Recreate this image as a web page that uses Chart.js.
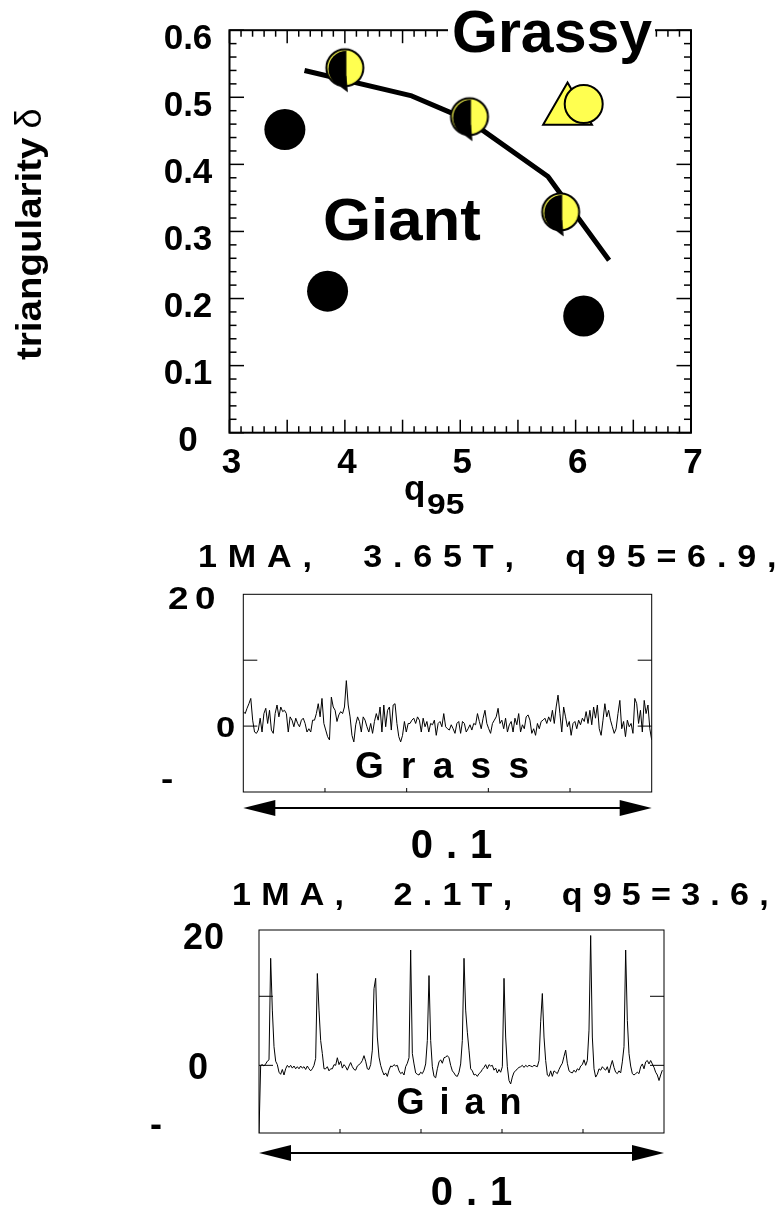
<!DOCTYPE html>
<html>
<head>
<meta charset="utf-8">
<title>Triangularity vs q95 and ELM traces</title>
<script src="https://cdn.jsdelivr.net/npm/chart.js@4.4.0/dist/chart.umd.min.js"></script>
<style>
  html, body { margin: 0; padding: 0; background: #fff; }
  body { width: 783px; height: 1215px; position: relative; overflow: hidden; }
  canvas { position: absolute; left: 0; }
</style>
</head>
<body>
<canvas id="deltaChart" width="783" height="520" style="top:0"></canvas>
<canvas id="grassChart" width="783" height="345" style="top:520px"></canvas>
<canvas id="giantChart" width="783" height="350" style="top:865px"></canvas>
<script>
// operating points: q95 and triangularity
const giantQ = [3.48, 3.85, 6.07];
const giantDelta = [0.452, 0.211, 0.174];
const mixedQ = [4.0, 5.08, 5.87];
const mixedDelta = [0.544, 0.471, 0.329];
const grassyTriQ = [5.93];
const grassyTriDelta = [0.480];
const grassyQ = [6.07];
const grassyDelta = [0.490];
// boundary between the two regimes
const boundaryQ = [3.65, 4.58, 5.07, 5.76, 6.29];
const boundaryDelta = [0.540, 0.502, 0.466, 0.382, 0.257];

const qTicks = [3, 4, 5, 6, 7];
const deltaTicks = [0, 0.1, 0.2, 0.3, 0.4, 0.5, 0.6];

// D-alpha signal, 1MA 3.65T q95=6.9 (grassy ELMs), 0.1 s window
const grassSignal = [
  2.2, 1.9, 2.7, 3.4, 4.2, 0.9, -0.9, -1.1, -0.6, 1.2,
  -0.9, 1.9, 2.7, 0.4, 2.4, -0.6, -1.1, 1.9, 3.2, 1.4,
  2.9, 2.2, 2.4, 1.9, -0.9, 1.4, 0.9, -0.1, 1.2, 0.4,
  -0.1, 0.9, 1.2, 0.4, -0.9, -0.4, -0.9, 0.9, 0.9, 1.9,
  3.4, 1.4, 4.2, 0.4, -0.6, -1.6, -2.1, 4.4, 2.9, 2.4,
  0.7, 1.7, 2.2, 1.9, 2.9, 6.9, 3.2, 1.4, -1.4, -2.4,
  0.2, 1.4, 0.7, -0.9, 1.4, 0.9, -0.1, -0.9, 0.4, -1.1,
  0.7,
  1.9, 0.9, 2.9, -0.9, 3.2, -0.1, 2.4, 2.9, -0.6, 3.2,
  3.4, 0.4, -1.6, -2.4, -1.4, 0.7, -0.9, 0.4, 0.4, 0.9,
  1.2, 0.4, 1.4, 0.9, -0.9, 1.2, -0.1, 0.7, -0.9, 0.4,
  0.2, 0.9, -1.4, 0.4, 0.7, -0.1, 1.9, -0.1, -0.4, -0.6,
  0.2, -0.4, -1.1, 0.4, 0.7, -1.1, 0.7, 0.4, -0.9, -0.4,
  0.2, -0.6, 0.4, 0.2, 1.9, 0.7, -0.4, 1.2, 2.4, 0.4,
  -0.4, -1.1, 0.4, 0.9, 1.4, 2.7, 0.4, 0.9, -0.4, 1.2,
  -0.9,
  0.2, 0.7, -0.9, 1.2, 0.2, 1.9, -0.9, 0.2, -0.4, 1.4,
  1.7, 0.9, -1.1, -0.4, -1.4, 0.4, -0.4, 0.7, 0.9, 1.2,
  0.4, 1.4, 0.7, 2.4, 0.4, 2.9, 4.7, 1.9, -0.9, 2.9,
  1.4, -0.1, 0.7, -1.4, 0.4, 0.7, -0.4, 0.9, 0.2, 1.2,
  0.7, 2.2, 0.4, 2.4, 0.2, 2.9, 1.2, 3.2, -0.4, -1.4,
  0.9, 3.4, 1.4, 2.4, 0.9, -0.1, -1.1, -0.4, 1.9, 3.9,
  -0.4, 0.7, -1.6, 0.9, -0.1, 0.4, -1.1, 4.2, 3.4, 0.4,
  2.4, -0.9, 3.9, 1.9, 3.2, -0.4, -2.1
];

// D-alpha signal, 1MA 2.1T q95=3.6 (giant ELMs), 0.1 s window
const giantSignal = [
  -9.8,
  0, 0.1, -0.1, 0.2, 0.6, 0.8, 15.5, 8.0, 2.7, 0.6,
  0.1, -1.0, -1.3, -0.6, -1.4, -0.5, 0, -0.3, 0, -0.4,
  -0.1, -0.5, -0.2, -0.5, -0.1, -0.4, -0.2, -0.6, -0.1, -0.5,
  -0.8, -0.5, 0, 1.0, 13.3, 8.0, 3.6, 1.7, -0.5, -0.5,
  -0.2, -0.8, -0.5, -0.5, 0.1, 0, 1.1, 0.1, 0.6, -0.4,
  0.1, -0.2, -0.7, -0.1, 0.4, -0.2, -0.6, -0.7, -0.1, 0.1,
  0.3, 0.7, 1.4, 0.6, -0.5, -0.6, 0.1, 2.2, 11.1, 12.6,
  4.1, 1.2, 0, -0.8, -1.4, -1.1, -1.6, -0.7, -0.1, -0.2,
  0.1, -0.1, 0, -0.8, -1.2, -1.0, -1.4, -0.2, 0.3, 1.1,
  16.7, 1.7, 0.2, -1.1, -1.3, -1.4, -1.0, -1.2, -0.7, 0.2,
  3.6, 13.0, 3.6, -0.2, -1.6, -1.8, -0.5, 0.5, 0.8, 0.3,
  1.1, 1.2, 1.4, 1.1, 0, -0.8, -1.1, -1.5, -1.6, -1.0,
  0.2, 3.6, 15.5, 8.0, 4.8, 2.2, -0.5, -0.8, -1.4, -1.3,
  -1.6, -1.2, -1.0, -0.6, -0.3, 0.1, -0.5, 0.1, -0.1, 0,
  -0.7, -0.4, -1.1, -0.6, -1.0, -0.2, 12.6, 4.1, -0.2, -2.2,
  -2.7, -1.7, -1.0, -0.8, -0.5, -0.3, -0.2, 0, -0.3, 0,
  -0.2,
  0, -0.1, -0.2, 0, -0.1, -0.2, 0.7, 6.3, 10.4, 4.1,
  0.7, -1.4, -1.6, -0.8, -1.6, -0.8, -1.0, -1.2, -0.6, -0.1,
  0.3, 1.3, 2.2, 0.3, -0.8, -1.0, -1.1, -0.7, -1.0, -0.5,
  -0.7, -0.1, 0.1, 0.8, 0, 0.7, 5.1, 18.8, 4.1, -0.5,
  -1.7, -1.3, -0.5, -0.7, -0.2, -0.5, -0.7, -0.2, -1.1, -0.1,
  0.7, -0.3, -1.0, -1.2, -0.8, -1.1, 0.5, 2.7, 16.7, 6.5,
  1.7, -0.1, -1.2, -1.4, -1.2, -1.0, -1.2, -0.2, 0.2, -0.5,
  0.5, 0.7, 0.2, 0.7, 0.2, -0.3, -1.0, -1.4, -2.2, -1.4,
  -0.7
];
const windowLength = 0.1; // seconds shown in each trace

const YELLOW = '#ffff50';
const SANS = '"Liberation Sans", Arial, Helvetica, sans-serif';

// text with optional horizontal stretch and letter spacing
function drawText(ctx, str, x, y, font, opts) {
  opts = opts || {};
  const sx = opts.sx || 1, ls = opts.ls || 0, align = opts.align || 'left';
  ctx.save();
  ctx.font = font;
  ctx.fillStyle = '#000';
  ctx.textAlign = 'left';
  ctx.textBaseline = 'alphabetic';
  const chars = ls ? [...str] : [str];
  const widths = chars.map(ch => ctx.measureText(ch).width * sx);
  const total = widths.reduce((s, w) => s + w, 0) + ls * (chars.length - 1);
  let cx = align === 'center' ? x - total / 2 : (align === 'right' ? x - total : x);
  chars.forEach((ch, i) => {
    ctx.save();
    ctx.translate(cx, y);
    ctx.scale(sx, 1);
    ctx.fillText(ch, 0, 0);
    ctx.restore();
    cx += widths[i] + ls;
  });
  ctx.restore();
  return total;
}

function seg(ctx, x1, y1, x2, y2) {
  ctx.beginPath();
  ctx.moveTo(x1, y1);
  ctx.lineTo(x2, y2);
  ctx.stroke();
}

function doubleArrow(ctx, x1, x2, y) {
  const head = 32, half = 8;
  ctx.save();
  ctx.fillStyle = '#000';
  ctx.strokeStyle = '#000';
  ctx.lineWidth = 2;
  seg(ctx, x1 + head - 2, y, x2 - head + 2, y);
  ctx.beginPath();
  ctx.moveTo(x1, y); ctx.lineTo(x1 + head, y - half); ctx.lineTo(x1 + head, y + half);
  ctx.closePath(); ctx.fill();
  ctx.beginPath();
  ctx.moveTo(x2, y); ctx.lineTo(x2 - head, y - half); ctx.lineTo(x2 - head, y + half);
  ctx.closePath(); ctx.fill();
  ctx.restore();
}

// yellow circle with its left half blacked out
function makeHalfMarker() {
  const c = document.createElement('canvas');
  c.width = 60; c.height = 60;
  const g = c.getContext('2d');
  const cx = 30, cy = 30, r = 18.5;
  g.fillStyle = YELLOW;
  g.beginPath(); g.arc(cx, cy, r, 0, 2 * Math.PI); g.fill();
  g.fillStyle = '#000';
  g.beginPath(); g.arc(cx + 1.5, cy + 1, r - 0.5, Math.PI / 2, 3 * Math.PI / 2); g.closePath(); g.fill();
  g.beginPath(); g.moveTo(cx + 1.5, cy + 8); g.lineTo(cx + 3, cy + r + 6); g.lineTo(cx - 9, cy + r - 3);
  g.closePath(); g.fill();
  g.lineWidth = 2; g.strokeStyle = '#000';
  g.beginPath(); g.arc(cx, cy, r, 0, 2 * Math.PI); g.stroke();
  return c;
}

const points = (xs, ys) => xs.map((v, i) => ({x: v, y: ys[i]}));

const deltaFrame = {
  id: 'deltaFrame',
  afterDraw(chart) {
    const {ctx, chartArea: a, scales: {x, y}} = chart;
    ctx.save();
    ctx.strokeStyle = '#000';
    ctx.lineWidth = 1.5;
    // minor ticks every 0.1 on q95, longer every 0.5
    for (let i = 0; i <= 40; i++) {
      const px = x.getPixelForValue(3 + i * 0.1);
      const len = i % 5 === 0 ? 13 : 6.5;
      seg(ctx, px, a.bottom, px, a.bottom - len);
      seg(ctx, px, a.top, px, a.top + len);
    }
    // minor ticks every 0.02 on delta, longer every 0.1
    for (let i = 0; i <= 30; i++) {
      const py = y.getPixelForValue(i * 0.02);
      const len = i % 5 === 0 ? 14.5 : 7;
      seg(ctx, a.left, py, a.left + len, py);
      seg(ctx, a.right, py, a.right - len, py);
    }
    ctx.lineWidth = 2;
    ctx.strokeRect(a.left, a.top, a.right - a.left, a.bottom - a.top);
    ctx.restore();

    const tickFont = 'bold 35px ' + SANS;
    deltaTicks.forEach(v => {
      drawText(ctx, String(v), 188, y.getPixelForValue(v) + 18.5, tickFont, {align: 'center'});
    });
    qTicks.forEach(v => {
      drawText(ctx, String(v), x.getPixelForValue(v) + 2, 473, tickFont, {align: 'center'});
    });

    // q95 axis title
    drawText(ctx, 'q', 404, 500, 'bold 35px ' + SANS);
    drawText(ctx, '95', 427, 514, 'bold 30px ' + SANS, {sx: 1.12});

    // delta axis title
    ctx.save();
    ctx.translate(41, 360);
    ctx.rotate(-Math.PI / 2);
    const w = drawText(ctx, 'triangularity', 0, 0, 'bold 35px ' + SANS, {sx: 1.1});
    drawText(ctx, '\u03b4', w + 9, 0, '36px ' + SANS);
    ctx.restore();

    // regime labels
    ctx.save();
    ctx.fillStyle = '#fff';
    ctx.fillRect(448, 0, 207, 48);
    ctx.restore();
    drawText(ctx, 'Grassy', 452, 51.7, 'bold 59px ' + SANS);
    drawText(ctx, 'Giant', 323, 240, 'bold 60px ' + SANS, {sx: 1.03});
  }
};

new Chart(document.getElementById('deltaChart'), {
  type: 'scatter',
  data: {
    datasets: [
      { data: points(giantQ, giantDelta), pointStyle: 'circle', pointRadius: 20.5,
        backgroundColor: '#000', borderWidth: 0, order: 2 },
      { data: points(mixedQ, mixedDelta), pointStyle: makeHalfMarker(), pointRadius: 20, order: 1 },
      { data: points(grassyTriQ, grassyTriDelta), pointStyle: 'triangle', pointRadius: 28.2,
        backgroundColor: YELLOW, borderColor: '#000', borderWidth: 2, order: 4 },
      { data: points(grassyQ, grassyDelta), pointStyle: 'circle', pointRadius: 19,
        backgroundColor: YELLOW, borderColor: '#000', borderWidth: 2, order: 3 },
      { data: points(boundaryQ, boundaryDelta), showLine: true, pointRadius: 0,
        borderColor: '#000', borderWidth: 5, borderJoinStyle: 'round', order: 10 }
    ]
  },
  options: {
    responsive: false,
    animation: false,
    events: [],
    layout: { padding: { left: 229.5, right: 92, top: 29.3, bottom: 87.3 } },
    scales: {
      x: { type: 'linear', min: 3, max: 7, display: false },
      y: { type: 'linear', min: 0, max: 0.6, display: false }
    },
    plugins: { legend: { display: false }, tooltip: { enabled: false } }
  },
  plugins: [deltaFrame]
});

function panelDecor(cfg) {
  return {
    id: 'panelDecor',
    afterDraw(chart) {
      const {ctx, chartArea: a, scales: {x, y}} = chart;
      ctx.save();
      ctx.strokeStyle = '#000';
      ctx.lineWidth = 1;
      ctx.strokeRect(a.left, a.top, a.right - a.left, a.bottom - a.top);
      [10, 0].forEach(v => {
        const py = y.getPixelForValue(v);
        seg(ctx, a.left, py, a.left + 14, py);
        seg(ctx, a.right, py, a.right - 14, py);
      });
      [0.02, 0.04, 0.06, 0.08].forEach(t => {
        const px = x.getPixelForValue(t);
        seg(ctx, px, a.bottom, px, a.bottom - 4);
      });
      ctx.restore();

      drawText(ctx, cfg.title, cfg.titleX, cfg.titleY, 'bold 31px ' + SANS, {sx: 1.1, ls: cfg.titleLs});
      cfg.yLabels.forEach(l => {
        drawText(ctx, l.text, l.x, y.getPixelForValue(l.value) + l.dy, 'bold ' + l.size + 'px ' + SANS,
          {sx: l.sx || 1, ls: l.ls || 0});
      });
      drawText(ctx, cfg.label, cfg.labelX, cfg.labelY, 'bold ' + cfg.labelSize + 'px ' + SANS,
        {ls: cfg.labelLs, align: 'center'});

      const x0 = x.getPixelForValue(0), x1 = x.getPixelForValue(windowLength);
      doubleArrow(ctx, x0, x1, cfg.arrowY);
      drawText(ctx, '0.1', (x0 + x1) / 2 + cfg.spanDx, cfg.spanY, 'bold 40px ' + SANS, {ls: 13, align: 'center'});
    }
  };
}

function traceChart(id, signal, step, yMin, yMax, padding, decor) {
  return new Chart(document.getElementById(id), {
    type: 'line',
    data: {
      datasets: [{
        data: signal.map((v, i) => ({x: i * step, y: v})),
        borderColor: '#000',
        borderWidth: 1,
        pointRadius: 0,
        tension: 0
      }]
    },
    options: {
      responsive: false,
      animation: false,
      events: [],
      layout: { padding: padding },
      scales: {
        x: { type: 'linear', min: 0, max: windowLength, display: false },
        y: { type: 'linear', min: yMin, max: yMax, display: false }
      },
      plugins: { legend: { display: false }, tooltip: { enabled: false } }
    },
    plugins: [decor]
  });
}

traceChart('grassChart', grassSignal, windowLength / (grassSignal.length - 1), -10, 20,
  { left: 243.3, right: 131.3, top: 74.3, bottom: 73 },
  panelDecor({
    title: '1MA,  3.65T,  q95=6.9,', titleX: 198, titleY: 47, titleLs: 10.8,
    yLabels: [
      { text: '20', value: 20, x: 168, dy: 15, size: 32, sx: 1.15, ls: 6.5 },
      { text: '0', value: 0, x: 216, dy: 10.7, size: 30, sx: 1.15 },
      { text: '-', value: -10, x: 161, dy: -3, size: 32, sx: 1.15 }
    ],
    label: 'Grass', labelX: 442, labelY: 257.5, labelSize: 37, labelLs: 17.3,
    arrowY: 288, spanY: 338, spanDx: 4
  }));

traceChart('giantChart', giantSignal, windowLength / giantSignal.length, -9.8, 19.6,
  { left: 259, right: 119, top: 65, bottom: 82 },
  panelDecor({
    title: '1MA,  2.1T,  q95=3.6,', titleX: 232, titleY: 40, titleLs: 10.2,
    yLabels: [
      { text: '20', value: 19.6, x: 183, dy: 19, size: 36, ls: 1 },
      { text: '0', value: 0, x: 188, dy: 14, size: 36 },
      { text: '-', value: -9.8, x: 150, dy: 3, size: 36 }
    ],
    label: 'Gian', labelX: 459, labelY: 248.5, labelSize: 36, labelLs: 15,
    arrowY: 288, spanY: 340, spanDx: 10
  }));
</script>
</body>
</html>
